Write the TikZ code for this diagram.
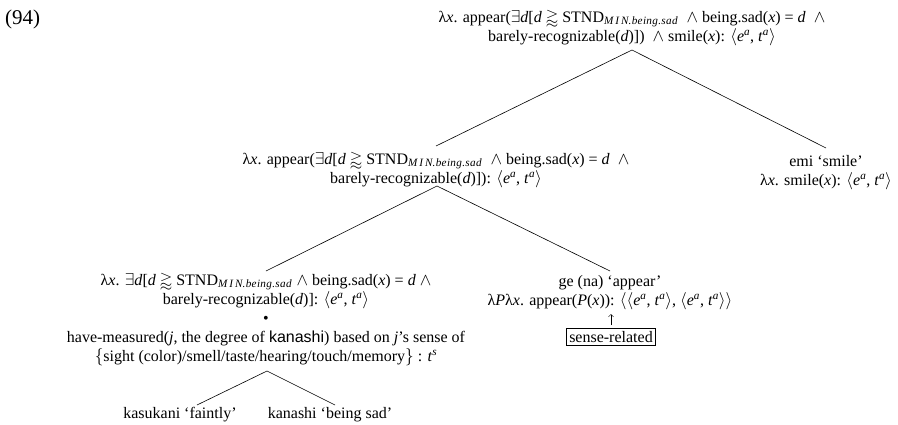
\documentclass[tikz,border=0pt]{standalone}
\usepackage{amssymb}
\usepackage{fontspec}
\usetikzlibrary{arrows.meta}
\setmainfont{Liberation Serif}
\newfontfamily\sansf{Liberation Sans}

% type signature <e^a, t^a> and the MIN standard
\newcommand\tya{$\langle$\textit{e}\textsuperscript{\textit{a}}, \textit{t}\textsuperscript{\textit{a}}$\rangle$}
\newcommand\stnd{STND\textsubscript{\textit{\addfontfeature{LetterSpace=18}MIN\addfontfeature{LetterSpace=3}.being.sad}}}
\newcommand\gapp{$\gtrapprox$}
\newcommand\lnd{$\wedge$}
\newcommand\txtsize{\fontsize{16}{19}\selectfont}

\begin{document}
\begin{tikzpicture}[x=1pt,y=-1pt,
  tnode/.style={inner sep=0pt, align=center, anchor=north, font=\txtsize},
  branch/.style={line width=0.6pt}]
\useasboundingbox (0,0) rectangle (898,424);

\node[anchor=base west, inner sep=0pt, font=\fontsize{21}{24}\selectfont] (num) at (5,24) {(94)};

% tree nodes
\node[tnode] (root) at (632,10) {λ\textit{x}. appear($\exists$\textit{d}[\textit{d} \gapp{} \stnd{} \ \lnd{} being.sad(\textit{x}) = \textit{d} \ \lnd\\
barely-recognizable(\textit{d})]) \ \lnd{} smile(\textit{x}): \tya};

\node[tnode] (mid) at (436,152) {λ\textit{x}. appear($\exists$\textit{d}[\textit{d} \gapp{} \stnd{} \ \lnd{} being.sad(\textit{x}) = \textit{d} \ \lnd\\
barely-recognizable(\textit{d})]): \tya};

\node[tnode] (emi) at (826,155) {emi `smile'\\ λ\textit{x}. smile(\textit{x}): \tya};

\node[tnode] (bl) at (266,273) {λ\textit{x}. $\exists$\textit{d}[\textit{d} \gapp{} \stnd{} \lnd{} being.sad(\textit{x}) = \textit{d} \lnd\\
barely-recognizable(\textit{d})]: \tya};

\node[tnode] (ge) at (610,275) {ge (na) `appear'\\
λ\textit{P}λ\textit{x}. appear(\textit{P}(\textit{x})): $\langle$\tya, \tya$\rangle$};

\node[draw, line width=0.6pt, inner xsep=2.5pt, inner ysep=3pt, anchor=north, font=\txtsize] (sense) at (611,328) {sense-related};

\node[inner sep=0pt, font=\txtsize] (dot) at (266,320) {\textbullet};

\node[tnode] (meas) at (266,331) {have-measured(\textit{j}, the degree of {\sansf kanashi}) based on \textit{j}'s sense of\\
$\{$sight (color)/smell/taste/hearing/touch/memory$\}$ : \textit{t}\textsuperscript{\textit{s}}};

\node[tnode] (kasu) at (180,407) {kasukani `faintly'};
\node[tnode] (kana) at (330,407) {kanashi `being sad'};

% branching points
\coordinate (ra) at (632,50);
\coordinate (ma) at (437,186);
\coordinate (la) at (267,371);

\draw[branch] ([yshift=6pt]mid.north) -- (ra) -- ([yshift=7pt]emi.north);
\draw[branch] ([yshift=2pt]bl.north) -- (ma) -- ([yshift=4pt]ge.north);
\draw[branch] ([xshift=17pt,yshift=2pt]kasu.north) -- (la) -- ([xshift=5pt,yshift=2pt]kana.north);
\draw[-{Straight Barb[length=2.5pt,width=5pt]}, line width=0.5pt] ([yshift=3pt]sense.north) -- ([yshift=14pt]sense.north);
\end{tikzpicture}
\end{document}
